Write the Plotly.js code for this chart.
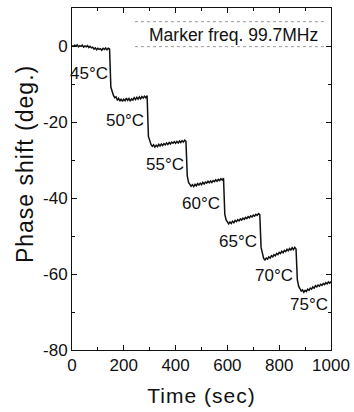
<!DOCTYPE html>
<html>
<head>
<meta charset="utf-8">
<script src="https://cdn.plot.ly/plotly-3.0.1.min.js"></script>
<style>
  html, body { margin: 0; padding: 0; background: #fff; }
  #chart { width: 354px; height: 412px; }
  .g-xtitle text { letter-spacing: 1px; }
  .annotation[data-index="0"] text { letter-spacing: 1px; }
</style>
</head>
<body>
<div id="chart"></div>
<script>
// Sampling of the recorded trace (seconds)
const T_START = 0;
const T_STEP = 5;

// Phase shift (deg.) sampled every 5 s from 0 to 1000 s
const phase = [
  0.1, -0.1, 0.2, 0.0, 0.3, -0.2, 0.1, -0.1, 0.2, -0.3,
  0.0, -0.2, 0.1, -0.4, -0.1, -0.5, -0.3, -0.8, -0.5, -1.0,
  -0.6, -0.9, -0.7, -1.1, -0.6, -0.9, -0.5, -1.0, -0.6, -0.8,
  -10.8, -12.3, -13.0, -13.6, -13.4, -14.2, -13.8, -14.5, -13.9, -14.6,
  -14.0, -14.4, -13.7, -14.3, -13.8, -14.5, -13.9, -14.2, -13.6, -14.1,
  -13.5, -14.0, -13.4, -13.9, -13.3, -13.7, -13.2, -13.6, -13.1,
  -23.8, -25.2, -25.9, -26.4, -26.0, -26.6, -26.1, -26.5, -25.9, -26.3,
  -25.8, -26.2, -25.7, -26.0, -25.5, -25.9, -25.4, -25.8, -25.3, -25.6,
  -25.2, -25.6, -25.1, -25.5, -25.0, -25.4, -24.9, -25.3, -24.8, -25.1,
  -34.2, -35.9, -36.6, -36.9, -36.5, -37.0, -36.4, -36.8, -36.2, -36.6,
  -36.1, -36.5, -35.9, -36.3, -35.8, -36.1, -35.6, -36.0, -35.5, -35.9,
  -35.4, -35.7, -35.2, -35.6, -35.1, -35.4, -34.9, -35.3, -34.8,
  -44.3, -45.8, -46.4, -46.8, -46.3, -46.7, -46.1, -46.5, -45.9, -46.2,
  -45.7, -46.0, -45.5, -45.8, -45.3, -45.6, -45.1, -45.4, -44.9, -45.2,
  -44.7, -45.0, -44.5, -44.8, -44.3, -44.6, -44.1, -44.4,
  -53.0, -55.0, -55.9, -56.3, -55.8, -56.1, -55.5, -55.8, -55.2, -55.5,
  -54.9, -55.2, -54.6, -54.9, -54.3, -54.6, -54.0, -54.4, -53.8, -54.1,
  -53.5, -53.9, -53.3, -53.7, -53.1, -53.6, -53.0, -53.4,
  -61.5, -63.2, -63.9, -64.5, -64.2, -64.8, -64.3, -64.6, -64.0, -64.3,
  -63.7, -64.0, -63.4, -63.7, -63.1, -63.4, -62.9, -63.2, -62.7, -63.0,
  -62.5, -62.8, -62.3, -62.6, -62.1, -62.4, -62.0
];

// Temperature labels placed beside each plateau (data coordinates)
const tempLabels = ["45°C", "50°C", "55°C", "60°C", "65°C", "70°C", "75°C"];
const tempLabelX = [66, 205, 359, 498, 641, 778, 915];
const tempLabelY = [-7.2, -19.5, -31.3, -41.5, -51.4, -60.4, -68.1];

const xTickVals = [0, 200, 400, 600, 800, 1000];
const xTickText = ["0", "200", "400", "600", "800", "1000"];
const yTickVals = [-80, -60, -40, -20, 0];
const yTickText = ["-80", "-60", "-40", "-20", "0"];

const FONT = "Liberation Sans, Arial, Helvetica, sans-serif";

const trace = {
  type: "scatter",
  mode: "lines",
  x0: T_START,
  dx: T_STEP,
  y: phase,
  line: { color: "#111", width: 1.5 },
  hoverinfo: "skip"
};

const annotations = [
  {
    xref: "paper", yref: "paper", x: -0.181, y: 0.544,
    text: "Phase shift (deg.)", textangle: -90, showarrow: false,
    xanchor: "center", yanchor: "middle",
    font: { family: FONT, size: 23, color: "#111" }
  },
  {
    xref: "paper", yref: "paper", x: 0.622, y: 0.921,
    text: "Marker freq. 99.7MHz", showarrow: false,
    xanchor: "center", yanchor: "middle",
    font: { family: FONT, size: 17.5, color: "#111" }
  }
];
tempLabels.forEach((t, i) => {
  annotations.push({
    xref: "x", yref: "y", x: tempLabelX[i], y: tempLabelY[i],
    text: t, showarrow: false, xanchor: "center", yanchor: "middle",
    font: { family: FONT, size: 17, color: "#111" }
  });
});

const axisCommon = {
  showline: true, linecolor: "#111", linewidth: 1, mirror: "allticks",
  ticks: "inside", ticklen: 5, tickwidth: 1, tickcolor: "#111",
  showgrid: false, zeroline: false,
  tickfont: { family: FONT, size: 17, color: "#111" }
};

const layout = {
  width: 354, height: 412,
  margin: { l: 72, r: 23, t: 8, b: 62, pad: 0 },
  paper_bgcolor: "#fff", plot_bgcolor: "#fff",
  showlegend: false,
  xaxis: Object.assign({}, axisCommon, {
    range: [0, 1000], tickmode: "array", tickvals: xTickVals, ticktext: xTickText,
    minor: { dtick: 100, ticks: "inside", ticklen: 3, tickcolor: "#111" },
    title: { text: "Time (sec)", font: { family: FONT, size: 21, color: "#111" }, standoff: 13 }
  }),
  yaxis: Object.assign({}, axisCommon, {
    range: [-80, 10], tickmode: "array", tickvals: yTickVals, ticktext: yTickText,
    minor: { dtick: 10, ticks: "inside", ticklen: 3, tickcolor: "#111" }
  }),
  shapes: [
    { type: "line", xref: "paper", yref: "paper", x0: 0.243, x1: 0.985, y0: 0.960, y1: 0.960,
      line: { color: "#999", width: 1, dash: "dot" } },
    { type: "line", xref: "paper", yref: "paper", x0: 0.243, x1: 0.985, y0: 0.887, y1: 0.887,
      line: { color: "#999", width: 1, dash: "dot" } }
  ],
  annotations: annotations
};

Plotly.newPlot("chart", [trace], layout, { staticPlot: true, displayModeBar: false });
</script>
</body>
</html>
